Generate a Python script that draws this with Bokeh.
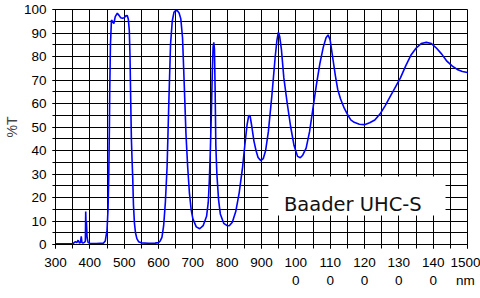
from bokeh.plotting import figure
from bokeh.models import BoxAnnotation, Label, FixedTicker
from bokeh.embed import file_html
from bokeh.resources import INLINE

wavelength = [300, 350, 358, 362, 366, 370, 373, 375, 377, 380, 385, 387, 388, 389, 390, 392, 395, 400,
              420, 440, 445, 450, 453, 455, 457, 458, 460, 463, 466, 470, 474, 480, 485, 490, 495, 500,
              505, 509, 512, 515, 517, 519, 521, 523, 525, 527, 530, 533, 537, 542, 550, 570, 590, 600,
              605, 610, 615, 620, 625, 630, 635, 640, 645, 650, 655, 660, 665, 670, 675, 680, 685, 690,
              695, 700, 710, 720, 730, 740, 745, 748, 751, 754, 757, 759, 761, 763, 765, 767, 770, 775,
              780, 790, 800, 806, 815, 825, 835, 845, 852, 858, 863, 867, 872, 878, 884, 890, 898, 905,
              912, 920, 930, 940, 945, 949, 953, 958, 965, 975, 985, 995, 1005, 1013, 1020, 1030, 1040,
              1050, 1060, 1070, 1080, 1088, 1094, 1100, 1107, 1115, 1122, 1130, 1141, 1150, 1160, 1170,
              1185, 1200, 1215, 1230, 1245, 1260, 1275, 1290, 1305, 1320, 1335, 1350, 1365, 1380, 1395,
              1410, 1425, 1440, 1455, 1470, 1485, 1500]
transmission = [0.3, 0.3, 1.2, 0.8, 1.8, 0.6, 1.0, 3.5, 0.8, 0.6, 1.0, 1.5, 14, 8, 10, 3, 0.8, 0.5,
                0.4, 0.6, 1.5, 6, 15, 28, 50, 66, 85, 95.5, 95, 94, 97, 98.4, 97.5, 96.5, 96.3, 96.5,
                97.3, 97.4, 96, 91, 80, 62, 45, 36, 28, 17, 9, 5, 2.5, 1.2, 0.7, 0.5, 0.6, 0.8,
                1.5, 3, 8, 18, 33, 60, 85, 95, 98.8, 99.6, 99.5, 98.5, 96, 88, 68, 47, 33, 22,
                15, 11, 7.5, 6.7, 8, 12, 18, 27, 40, 56, 75, 84, 86, 83, 65, 42, 30, 19,
                13, 9, 8, 8, 9.5, 14, 22, 33, 43, 51, 55, 54.5, 50, 44, 40, 37, 35.7, 36.5,
                40, 48, 63, 80, 87, 90.3, 88.5, 83, 71, 60, 50, 42, 37.5, 36.9, 38, 41, 48,
                58, 68, 77, 84, 88, 89.2, 87, 80, 72, 66, 62, 58, 55.5, 53, 52,
                51.2, 51, 51.8, 53, 55.5, 59, 63, 67, 71, 76, 80.5, 83.5, 85.5, 86, 85.5,
                83.5, 81, 78, 76, 74.5, 73.6, 73.2]

x_ticks = [300, 400, 500, 600, 700, 800, 900, 1000, 1100, 1200, 1300, 1400, 1500]
x_tick_labels = ["300", "400", "500", "600", "700", "800", "900",
                 "100\n0", "110\n0", "120\n0", "130\n0", "140\n0", "1500\nnm"]
y_ticks = [0, 10, 20, 30, 40, 50, 60, 70, 80, 90, 100]
title_text = "Baader UHC-S"

p = figure(width=480, height=298, output_backend="svg", toolbar_location=None,
           x_range=(300, 1500), y_range=(0, 100),
           min_border_left=54, min_border_right=13, min_border_top=9, min_border_bottom=54)
p.background_fill_color = "white"
p.border_fill_color = "white"
p.outline_line_color = "black"

p.xaxis.ticker = FixedTicker(ticks=x_ticks, minor_ticks=list(range(300, 1501, 50)))
p.yaxis.ticker = FixedTicker(ticks=y_ticks, minor_ticks=list(range(0, 101, 5)))
p.xaxis.major_label_overrides = {t: l for t, l in zip(x_ticks, x_tick_labels)}

for ax in (p.xaxis, p.yaxis):
    ax.axis_line_color = "black"
    ax.major_tick_line_color = "black"
    ax.minor_tick_line_color = "black"
    ax.major_tick_in = 0
    ax.minor_tick_in = 0
    ax.major_label_text_font = "Liberation Sans"
    ax.major_label_text_font_size = "13.5px"
    ax.major_label_text_color = "black"
p.xaxis.major_tick_out = 4
p.xaxis.minor_tick_out = 4
p.yaxis.major_tick_out = 3
p.yaxis.minor_tick_out = 3
p.xaxis.major_label_standoff = 6
p.yaxis.major_label_standoff = 6

p.yaxis.axis_label = "%T"
p.yaxis.axis_label_text_font = "Liberation Sans"
p.yaxis.axis_label_text_font_style = "normal"
p.yaxis.axis_label_text_font_size = "14px"
p.yaxis.axis_label_standoff = 1

for g in (p.xgrid, p.ygrid):
    g.grid_line_color = "black"
    g.grid_line_width = 1
    g.minor_grid_line_color = "black"
    g.minor_grid_line_width = 1
p.xgrid.ticker = p.xaxis.ticker
p.ygrid.ticker = p.yaxis.ticker

p.line(wavelength, transmission, line_color="#0000ff", line_width=1.6)

box = BoxAnnotation(left=920, right=1436, bottom=12.3, top=28.9,
                    fill_color="white", fill_alpha=1.0, line_color=None)
p.add_layout(box)
p.add_layout(Label(x=1166, y=17.0, text=title_text, text_align="center",
                   text_baseline="alphabetic", text_font="DejaVu Sans",
                   text_font_size="19.5px", text_color="#111111"))

open("out.html", "w").write(file_html(p, INLINE))
